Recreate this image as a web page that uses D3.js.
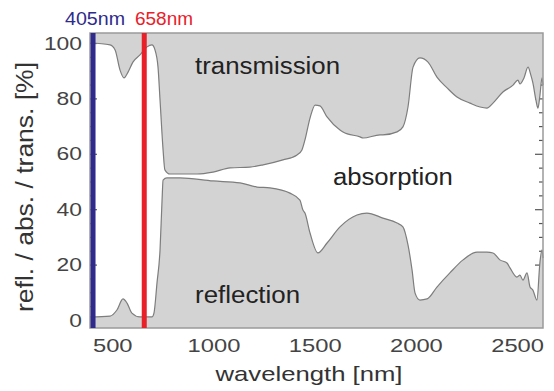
<!DOCTYPE html>
<html>
<head>
<meta charset="utf-8">
<script src="https://cdn.jsdelivr.net/npm/d3@7"></script>
<style>
  html, body { margin: 0; padding: 0; background: #fff; }
  svg { display: block; font-family: "Liberation Sans", Arial, sans-serif; }
</style>
</head>
<body>
<svg id="chart" width="554" height="391"></svg>
<script>
// Wavelength samples (nm) of the transmission spectrum
const transWavelengths = [390, 489, 514, 538, 558, 578, 602, 637, 672, 696, 711, 726, 736, 751, 760, 785,
  919, 998, 1082, 1180, 1245, 1343, 1413, 1437, 1452, 1477, 1502, 1526, 1561, 1625, 1640, 1724, 1739,
  1823, 1837, 1907, 1936, 1961, 1986, 2020, 2060, 2104, 2154, 2203, 2267, 2317, 2351, 2381, 2430, 2480,
  2504, 2514, 2534, 2554, 2568, 2578, 2593, 2603, 2613, 2623, 2628];
// Transmission (%), shown hanging down from the 100 % line
const transmission = [0, 0.7, 2.5, 9.7, 12.6, 10.5, 6.9, 4.3, 1.4, 0.7, 2.5, 8.7, 20.6, 38.6, 45.8, 47.3,
  47.3, 46.6, 45.1, 44.8, 44.0, 42.2, 40.4, 38.6, 35.0, 27.1, 22.4, 22.7, 26.7, 31.4, 32.1, 33.9, 34.3,
  33.2, 33.2, 32.1, 30.3, 23.1, 8.7, 5.4, 6.9, 12.3, 16.2, 19.5, 21.7, 23.1, 23.5, 21.7, 17.7, 15.2,
  13.4, 14.8, 12.6, 8.7, 11.6, 14.4, 20.6, 23.5, 18.8, 12.6, 15.2];

// Wavelength samples (nm) of the reflection spectrum
const reflWavelengths = [390, 489, 523, 553, 573, 597, 637, 696, 706, 721, 736, 746, 751, 770, 835,
  998, 1131, 1215, 1279, 1378, 1427, 1442, 1452, 1477, 1516, 1561, 1625, 1709, 1758, 1837, 1907, 1936,
  1961, 1981, 1996, 2020, 2055, 2104, 2168, 2233, 2302, 2351, 2381, 2415, 2450, 2465, 2499, 2514,
  2529, 2549, 2564, 2578, 2598, 2613, 2623, 2628];
// Reflection (%)
const reflection = [1.1, 1.4, 3.6, 7.6, 6.1, 2.5, 1.1, 1.1, 2.5, 13.4, 25.3, 43.3, 50.5, 51.3, 51.3,
  50.2, 49.5, 48.0, 47.7, 45.8, 43.3, 39.7, 38.6, 31.4, 24.2, 27.8, 33.6, 37.9, 38.6, 36.8, 35.0, 33.6,
  27.1, 18.1, 9.7, 7.2, 7.6, 11.9, 17.0, 21.7, 24.5, 24.5, 24.2, 21.7, 20.6, 18.8, 15.5, 16.2,
  14.4, 17.0, 11.9, 10.8, 7.2, 20.9, 25.3, 22.4];

// Laser wavelengths marked on the plot
const laserLines = [405, 658];
const laserLabels = ["405nm", "658nm"];

// Axis tick labels
const xTickValues = [500, 1000, 1500, 2000, 2500];
const yTickValues = [0, 20, 40, 60, 80, 100];
const yMinorTicks = [5, 10, 15, 25, 30, 35, 45, 50, 55, 65, 70, 75, 85, 90, 95];

// Region names
const regionNames = ["transmission", "absorption", "reflection"];

// ---------------------------------------------------------------------------
const svg = d3.select("#chart");
const plot = { left: 90, right: 543, top: 33, bottom: 328 };

const x = d3.scaleLinear().domain([390, 2628]).range([plot.left, plot.right]);
const y = d3.scaleLinear().domain([-2.89, 103.61]).range([plot.bottom, plot.top]);

const fillGrey = "#d3d3d3";
const curveGrey = "#7d7d7d";
const frameGrey = "#9a9a9a";
const laserColors = ["#2f2b8c", "#e8202a"];

const transData = transWavelengths.map((w, i) => ({ w, v: 100 - transmission[i] }));
const reflData = reflWavelengths.map((w, i) => ({ w, v: reflection[i] }));

// Tick marks (inside the frame) on the left and right edges
function tickAxis(gen, values, size) {
  return gen(y).tickValues(values).tickSize(-size).tickFormat("");
}
const tickGroups = [
  svg.append("g").attr("transform", `translate(${plot.left},0)`).call(tickAxis(d3.axisLeft, yTickValues, 7)),
  svg.append("g").attr("transform", `translate(${plot.left},0)`).call(tickAxis(d3.axisLeft, yMinorTicks, 4)),
  svg.append("g").attr("transform", `translate(${plot.right},0)`).call(tickAxis(d3.axisRight, yTickValues, 8)),
  svg.append("g").attr("transform", `translate(${plot.right},0)`).call(tickAxis(d3.axisRight, yMinorTicks, 4))
];
tickGroups.forEach(g => {
  g.select(".domain").remove();
  g.selectAll("line").attr("stroke", "#555").attr("stroke-width", 1.2);
});

// Shaded transmission region (from the top of the frame down to the curve)
const curve = d3.curveMonotoneX;
svg.append("path")
  .datum(transData)
  .attr("fill", fillGrey)
  .attr("d", d3.area().curve(curve).x(d => x(d.w)).y0(plot.top).y1(d => y(d.v)));

// Shaded reflection region (from the bottom of the frame up to the curve)
svg.append("path")
  .datum(reflData)
  .attr("fill", fillGrey)
  .attr("d", d3.area().curve(curve).x(d => x(d.w)).y0(plot.bottom).y1(d => y(d.v)));

// Spectrum outlines
const line = d3.line().curve(curve).x(d => x(d.w)).y(d => y(d.v));
[transData, reflData].forEach(data => {
  svg.append("path").datum(data)
    .attr("fill", "none").attr("stroke", curveGrey).attr("stroke-width", 1.2)
    .attr("d", line);
});

// Frame
svg.append("path")
  .attr("d", `M${plot.left},${plot.top}H${plot.right}V${plot.bottom}H${plot.left}Z`)
  .attr("fill", "none").attr("stroke", frameGrey).attr("stroke-width", 1.5);

// Laser wavelength markers
svg.selectAll(".laser").data(laserLines).enter().append("line")
  .attr("x1", d => x(d)).attr("x2", d => x(d))
  .attr("y1", plot.top).attr("y2", plot.bottom)
  .attr("stroke", (d, i) => laserColors[i]).attr("stroke-width", 5);

// Y axis labels
const yAxis = svg.append("g").attr("transform", `translate(${plot.left},0)`)
  .call(d3.axisLeft(y).tickValues(yTickValues).tickSize(0).tickPadding(8).tickFormat(d3.format("d")));
yAxis.select(".domain").remove();
yAxis.selectAll("text")
  .attr("font-size", 19).attr("fill", "#444").attr("font-family", "Liberation Sans, Arial, sans-serif")
  .attr("lengthAdjust", "spacingAndGlyphs")
  .attr("textLength", d => String(d).length * 12.7);

// X axis labels
const xAxis = svg.append("g").attr("transform", `translate(0,${plot.bottom})`)
  .call(d3.axisBottom(x).tickValues(xTickValues).tickSize(0).tickPadding(11).tickFormat(d3.format("d")));
xAxis.select(".domain").remove();
xAxis.selectAll("text")
  .attr("font-size", 19).attr("fill", "#444").attr("font-family", "Liberation Sans, Arial, sans-serif")
  .attr("lengthAdjust", "spacingAndGlyphs")
  .attr("textLength", d => String(d).length * 13.2);

// Axis titles
svg.append("text")
  .attr("x", 309).attr("y", 381).attr("text-anchor", "middle")
  .attr("font-size", 21).attr("fill", "#333")
  .attr("textLength", 187).attr("lengthAdjust", "spacingAndGlyphs")
  .text("wavelength [nm]");

svg.append("text")
  .attr("transform", "translate(33,187) rotate(-90)")
  .attr("text-anchor", "middle")
  .attr("font-size", 23).attr("fill", "#333")
  .attr("textLength", 250).attr("lengthAdjust", "spacingAndGlyphs")
  .text("refl. / abs. / trans. [%]");

// Laser labels above the frame
const laserLabelPos = [{ x: 65, w: 60 }, { x: 135, w: 58 }];
svg.selectAll(".laserLabel").data(laserLabels).enter().append("text")
  .attr("x", (d, i) => laserLabelPos[i].x).attr("y", 25)
  .attr("font-size", 18).attr("fill", (d, i) => laserColors[i])
  .attr("textLength", (d, i) => laserLabelPos[i].w).attr("lengthAdjust", "spacingAndGlyphs")
  .text(d => d);

// Region names, placed in data coordinates
const regionPos = [
  { w: 909, v: 88.8, len: 145 },
  { w: 1590, v: 48.7, len: 120 },
  { w: 909, v: 6.1, len: 105 }
];
svg.selectAll(".region").data(regionNames).enter().append("text")
  .attr("x", (d, i) => x(regionPos[i].w)).attr("y", (d, i) => y(regionPos[i].v))
  .attr("font-size", 23).attr("fill", "#222")
  .attr("textLength", (d, i) => regionPos[i].len).attr("lengthAdjust", "spacingAndGlyphs")
  .text(d => d);
</script>
</body>
</html>
